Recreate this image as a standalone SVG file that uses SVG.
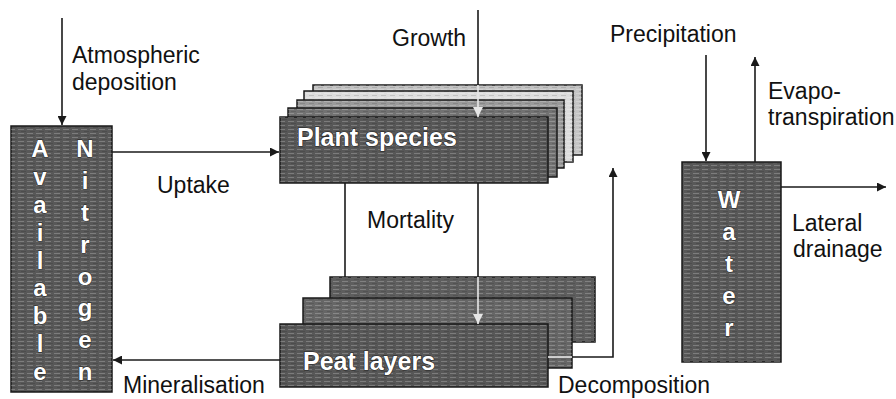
<svg xmlns="http://www.w3.org/2000/svg" width="896" height="399" viewBox="0 0 896 399">
<style>
.lbl{font-family:"Liberation Sans",Arial,sans-serif;font-size:23px;fill:#111}
.box{stroke:#1a1a1a;stroke-width:1.5}
.tex{fill:url(#streak);stroke:none}
.big{font-family:"Liberation Sans",Arial,sans-serif;font-size:25px;font-weight:bold;fill:#fff;stroke:#222;stroke-width:1.2;paint-order:stroke}
.let{font-family:"Liberation Sans",Arial,sans-serif;font-size:24px;font-weight:bold;fill:#fff;stroke:#222;stroke-width:1;paint-order:stroke;text-anchor:middle}
.ln{fill:none;stroke:#1a1a1a;stroke-width:1.6}
.lt{fill:none;stroke:#e6e6e6;stroke-width:1.6}
</style>
<defs>
<pattern id="streak" width="9" height="4" patternUnits="userSpaceOnUse">
<rect x="0" y="1" width="6" height="1" fill="#fff" opacity="0.22"/>
<rect x="3" y="3" width="5" height="0.8" fill="#000" opacity="0.15"/>
</pattern>
<marker id="ah" viewBox="0 0 10 10" refX="10" refY="5" markerWidth="9" markerHeight="9" orient="auto" markerUnits="userSpaceOnUse">
<path d="M0,0 L10,5 L0,10 z" fill="#1a1a1a"/>
</marker>
<marker id="ahl" viewBox="0 0 10 10" refX="10" refY="5" markerWidth="10" markerHeight="10" orient="auto" markerUnits="userSpaceOnUse">
<path d="M0,0 L10,5 L0,10 z" fill="#e6e6e6"/>
</marker>
</defs>
<rect width="896" height="399" fill="#fff"/>

<g id="available-nitrogen">
<rect class="box" x="11" y="126" width="101" height="266" fill="#585858"/>
<rect class="tex" x="11" y="126" width="101" height="266"/>
<text class="let" x="40" y="157">A</text>
<text class="let" x="40" y="185">v</text>
<text class="let" x="40" y="213">a</text>
<text class="let" x="40" y="241">i</text>
<text class="let" x="40" y="269">l</text>
<text class="let" x="40" y="296">a</text>
<text class="let" x="40" y="324">b</text>
<text class="let" x="40" y="352">l</text>
<text class="let" x="40" y="380">e</text>
<text class="let" x="85" y="157">N</text>
<text class="let" x="85" y="189">i</text>
<text class="let" x="85" y="221">t</text>
<text class="let" x="85" y="253">r</text>
<text class="let" x="85" y="285">o</text>
<text class="let" x="85" y="316">g</text>
<text class="let" x="85" y="348">e</text>
<text class="let" x="85" y="380">n</text>
</g>

<g id="plant-species">
<rect class="box" x="313" y="85" width="269" height="70" fill="#c4c4c4"/>
<rect class="tex" x="313" y="85" width="269" height="70"/>
<rect class="box" x="304" y="91" width="269" height="71" fill="#dcdcdc"/>
<rect class="tex" x="304" y="91" width="269" height="71"/>
<rect class="box" x="297" y="100" width="267" height="68" fill="#9a9a9a"/>
<rect class="tex" x="297" y="100" width="267" height="68"/>
<rect class="box" x="288" y="108" width="269" height="69" fill="#727272"/>
<rect class="tex" x="288" y="108" width="269" height="69"/>
<rect class="box" x="280" y="117" width="268" height="66" fill="#575757"/>
<rect class="tex" x="280" y="117" width="268" height="66"/>
<text class="big" x="297" y="146">Plant species</text>
</g>

<g id="peat-layers">
<rect class="box" x="330" y="277" width="265" height="65" fill="#5e5e5e"/>
<rect class="tex" x="330" y="277" width="265" height="65"/>
<rect class="box" x="303" y="298" width="269" height="70" fill="#666"/>
<rect class="tex" x="303" y="298" width="269" height="70"/>
<rect class="box" x="280" y="324" width="268" height="63" fill="#575757"/>
<rect class="tex" x="280" y="324" width="268" height="63"/>
<text class="big" x="303" y="370">Peat layers</text>
</g>

<g id="water">
<rect class="box" x="682" y="162" width="99" height="200" fill="#585858"/>
<rect class="tex" x="682" y="162" width="99" height="200"/>
<text class="let" x="729" y="208">W</text>
<text class="let" x="729" y="240">a</text>
<text class="let" x="729" y="272">t</text>
<text class="let" x="729" y="304">e</text>
<text class="let" x="729" y="336">r</text>
</g>

<g id="connectors">
<line class="ln" x1="62" y1="18" x2="62" y2="125" marker-end="url(#ah)"/>
<line class="ln" x1="112" y1="152" x2="279" y2="152" marker-end="url(#ah)"/>
<line class="ln" x1="280" y1="360" x2="113" y2="360" marker-end="url(#ah)"/>
<line class="ln" x1="478" y1="10" x2="478" y2="85"/>
<line class="lt" x1="478" y1="85" x2="478" y2="117" marker-end="url(#ahl)"/>
<line class="ln" x1="478" y1="183" x2="478" y2="277"/>
<line class="lt" x1="478" y1="277" x2="478" y2="324" marker-end="url(#ahl)"/>
<line class="ln" x1="345" y1="183" x2="345" y2="277"/>
<line class="lt" x1="548" y1="357" x2="572" y2="357"/>
<polyline class="ln" points="572,357 613,357 613,168" marker-end="url(#ah)"/>
<line class="ln" x1="706" y1="55" x2="706" y2="161" marker-end="url(#ah)"/>
<line class="ln" x1="755" y1="162" x2="755" y2="57" marker-end="url(#ah)"/>
<line class="ln" x1="781" y1="187" x2="886" y2="187" marker-end="url(#ah)"/>
</g>

<g id="labels">
<text class="lbl" x="72" y="63">Atmospheric</text>
<text class="lbl" x="72" y="90">deposition</text>
<text class="lbl" x="157" y="193">Uptake</text>
<text class="lbl" x="123" y="393">Mineralisation</text>
<text class="lbl" x="392" y="46">Growth</text>
<text class="lbl" x="367" y="228">Mortality</text>
<text class="lbl" x="558" y="393">Decomposition</text>
<text class="lbl" x="610" y="42">Precipitation</text>
<text class="lbl" x="768" y="99">Evapo-</text>
<text class="lbl" x="768" y="125">transpiration</text>
<text class="lbl" x="792" y="231">Lateral</text>
<text class="lbl" x="793" y="257">drainage</text>
</g>
</svg>
